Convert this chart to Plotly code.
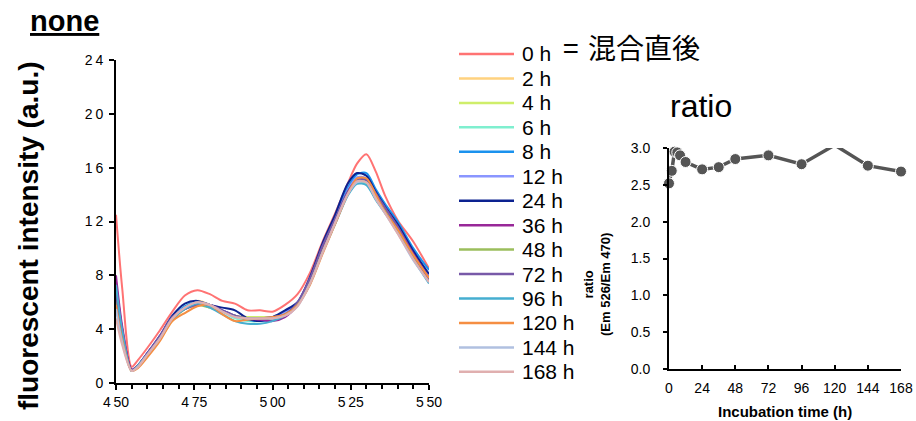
import plotly.graph_objects as go

# ---------------- data ----------------
wavelength = [450, 452, 455, 457, 460, 464, 468, 472, 476, 480, 484, 488, 492, 496,
              500, 504, 508, 512, 516, 520, 524, 527, 530, 533, 536, 540, 545, 550]

time_labels = ["0 h", "2 h", "4 h", "6 h", "8 h", "12 h", "24 h", "36 h",
               "48 h", "72 h", "96 h", "120 h", "144 h", "168 h"]

line_colors = ["#FF7373", "#FFD27F", "#CFEE6A", "#7FEFCF", "#1A92EE", "#8A96FF", "#0C2290",
               "#982898", "#9BBE5C", "#7859A8", "#45AED0", "#F58E42", "#B0C0E0", "#E0AFAF"]

spectra = [
    [12.5, 7.0, 1.2, 1.7, 2.6, 3.9, 5.3, 6.5, 6.9, 6.6, 6.1, 5.9, 5.4, 5.4, 5.3, 5.8, 6.6, 8.2, 10.5, 12.6, 14.8, 16.3, 17.0, 15.7, 13.9, 12.1, 10.5, 8.5],
    [6.0, 3.3, 0.9, 1.2, 2.0, 3.2, 4.6, 5.5, 6.1, 5.8, 5.3, 4.9, 4.8, 4.8, 4.9, 5.2, 5.9, 7.5, 9.8, 12.0, 14.1, 15.0, 15.0, 13.8, 12.8, 11.5, 9.5, 7.8],
    [6.3, 3.4, 0.9, 1.3, 2.1, 3.3, 4.7, 5.6, 5.9, 5.6, 5.3, 5.0, 4.9, 4.9, 4.9, 5.1, 5.8, 7.5, 9.9, 12.0, 14.1, 15.0, 14.9, 13.8, 12.8, 11.5, 9.5, 7.7],
    [6.6, 3.6, 0.9, 1.3, 2.2, 3.4, 4.8, 5.7, 6.0, 5.7, 5.3, 4.8, 4.6, 4.6, 4.8, 5.1, 5.8, 7.5, 9.8, 11.9, 14.0, 14.9, 14.8, 13.7, 12.7, 11.4, 9.4, 7.6],
    [6.8, 3.7, 0.9, 1.3, 2.2, 3.4, 4.8, 5.7, 6.0, 5.8, 5.4, 5.0, 4.7, 4.6, 4.7, 5.1, 5.9, 7.7, 10.1, 12.3, 14.5, 15.5, 15.6, 14.4, 13.3, 12.0, 10.0, 8.4],
    [7.0, 3.8, 0.9, 1.3, 2.2, 3.4, 4.8, 5.6, 5.9, 5.7, 5.3, 5.0, 4.8, 4.7, 4.8, 5.3, 5.8, 7.6, 10.0, 12.1, 14.3, 15.3, 15.2, 14.1, 13.0, 11.7, 9.7, 8.0],
    [7.5, 4.0, 1.0, 1.3, 2.2, 3.5, 5.0, 5.9, 6.1, 5.8, 5.6, 5.4, 4.8, 4.6, 4.9, 5.4, 6.0, 7.9, 10.4, 12.5, 14.8, 15.6, 15.4, 14.2, 13.1, 11.8, 9.8, 8.1],
    [8.0, 4.2, 1.0, 1.3, 2.2, 3.4, 4.8, 5.5, 5.8, 5.8, 5.4, 5.0, 4.8, 4.7, 4.6, 4.9, 5.8, 7.6, 10.0, 12.1, 14.2, 15.1, 15.1, 14.0, 13.0, 11.6, 9.6, 7.8],
    [6.4, 3.5, 0.9, 1.2, 2.1, 3.3, 4.7, 5.5, 5.8, 5.6, 5.3, 5.0, 4.8, 4.8, 4.8, 5.1, 5.8, 7.5, 9.8, 11.9, 14.0, 14.9, 14.9, 13.8, 12.8, 11.4, 9.4, 7.6],
    [6.7, 3.6, 0.9, 1.3, 2.2, 3.5, 4.9, 5.5, 5.8, 5.8, 5.4, 5.0, 4.8, 4.8, 4.9, 5.1, 6.0, 7.8, 10.2, 12.2, 14.2, 15.1, 15.1, 14.1, 13.0, 11.6, 9.5, 7.7],
    [7.3, 3.9, 0.9, 1.3, 2.1, 3.3, 4.7, 5.5, 5.9, 5.6, 5.1, 4.6, 4.4, 4.4, 4.6, 5.0, 5.8, 7.4, 9.7, 11.8, 13.9, 14.8, 14.7, 13.6, 12.6, 11.3, 9.2, 7.4],
    [5.8, 3.2, 0.9, 1.1, 1.9, 3.1, 4.6, 5.2, 5.7, 5.8, 5.1, 4.6, 4.7, 4.8, 4.9, 5.1, 5.8, 7.3, 9.6, 11.8, 14.0, 15.2, 15.2, 14.0, 12.7, 11.4, 9.5, 7.8],
    [5.5, 3.0, 0.9, 1.2, 2.1, 3.3, 4.8, 5.6, 6.0, 5.8, 5.3, 4.9, 4.8, 4.8, 4.8, 5.0, 5.7, 7.4, 9.7, 11.9, 14.0, 14.9, 14.9, 13.7, 12.6, 11.1, 9.1, 7.5],
    [4.8, 2.8, 0.9, 1.2, 2.1, 3.3, 4.8, 5.6, 6.0, 5.8, 5.3, 4.9, 4.8, 4.8, 4.8, 5.0, 5.7, 7.4, 9.7, 11.9, 14.0, 15.0, 14.9, 13.7, 12.6, 11.1, 9.2, 7.5],
]

incubation_hours = [0, 2, 4, 6, 8, 12, 24, 36, 48, 72, 96, 120, 144, 168]
ratio_values = [2.52, 2.69, 2.95, 2.94, 2.90, 2.81, 2.71, 2.74, 2.85, 2.90, 2.78, 3.04, 2.76, 2.68]

wl_tickvals = [450, 475, 500, 525, 550]
wl_ticktext = ["4\u200950", "4\u200975", "5\u200900", "5\u200925", "5\u200950"]
int_tickvals = [0, 4, 8, 12, 16, 20, 24]
int_ticktext = ["0", "4", "8", "1\u20092", "1\u20096", "2\u20090", "2\u20094"]
hour_tickvals = [0, 24, 48, 72, 96, 120, 144, 168]
ratio_tickvals = [0.0, 0.5, 1.0, 1.5, 2.0, 2.5, 3.0]

# ---------------- figure ----------------
W, H = 916, 421
FONT = "Liberation Sans, Arial, sans-serif"
CJK_FONT = "Noto Sans CJK JP"


def px(x):
    return x / W


def py(y):
    return 1 - y / H


fig = go.Figure()

for label, color, ys in zip(time_labels, line_colors, spectra):
    fig.add_trace(go.Scatter(
        x=wavelength, y=ys, mode="lines", name=label,
        line=dict(color=color, width=2, shape="spline", smoothing=0.8),
        xaxis="x", yaxis="y", showlegend=False,
    ))

# markers above the axis range are left out, as the line is cut there
marker_sizes = [11 if v <= ratio_tickvals[-1] else 0 for v in ratio_values]
fig.add_trace(go.Scatter(
    x=incubation_hours, y=ratio_values, mode="lines+markers",
    line=dict(color="#555555", width=3.5),
    marker=dict(color="#555555", size=marker_sizes, opacity=1),
    xaxis="x2", yaxis="y2", showlegend=False, cliponaxis=False,
))

axis_common = dict(
    showline=True, linecolor="black", linewidth=2, showgrid=False, zeroline=False,
    automargin=False,
    tickcolor="black", tickwidth=1.5, tickfont=dict(family=FONT, size=14, color="black"),
)

fig.update_layout(
    width=W, height=H, autosize=False,
    margin=dict(l=0, r=0, t=0, b=0, autoexpand=False),
    paper_bgcolor="white", plot_bgcolor="white",
    showlegend=False,
    font=dict(family=FONT, color="black"),
    xaxis=dict(domain=[px(116), px(429)], range=[450, 550], anchor="y",
               tickvals=wl_tickvals, ticktext=wl_ticktext, ticks="outside", ticklen=5,
               minor=dict(dtick=5, tick0=450, ticks="outside", ticklen=4,
                          tickcolor="black", tickwidth=1.5),
               ticklabelstandoff=0, **axis_common),
    yaxis=dict(domain=[1 - 383 / H, 1 - 60 / H], range=[0, 24], anchor="x",
               tickvals=int_tickvals, ticktext=int_ticktext, ticks="outside", ticklen=5,
               ticklabelstandoff=3, **axis_common),
    xaxis2=dict(domain=[px(669), px(901)], range=[0, 168], anchor="y2",
                tickvals=hour_tickvals, ticks="inside", ticklen=4,
                ticklabelstandoff=5, **axis_common),
    yaxis2=dict(domain=[1 - 369 / H, 1 - 148 / H], range=[0, 3], anchor="x2",
                tickvals=ratio_tickvals, tickformat=".1f", ticks="outside", ticklen=4,
                ticklabelstandoff=10, **axis_common),
)

annotations = [
    dict(x=px(28), y=py(21), text="<b><u>none</u></b>", xanchor="left", yanchor="middle",
         font=dict(family=FONT, size=29, color="black")),
    dict(x=px(28), y=py(236), text="<b>fluorescent intensity (a.u.)</b>", textangle=-90,
         xanchor="center", yanchor="middle", font=dict(family=FONT, size=28, color="black")),
    dict(x=px(561), y=py(47), text="=", xanchor="left", yanchor="middle",
         font=dict(family=CJK_FONT, size=28, color="black")),
    dict(x=px(586), y=py(47), text="混合直後", xanchor="left", yanchor="middle",
         font=dict(family=CJK_FONT, size=28, color="black")),
    dict(x=px(701), y=py(106), text="ratio", xanchor="center", yanchor="middle",
         font=dict(family=FONT, size=32, color="black")),
    dict(x=px(597), y=py(285), text="<b>ratio<br>(Em 526/Em 470)</b>", textangle=-90,
         xanchor="center", yanchor="middle", font=dict(family=FONT, size=13, color="black")),
    dict(x=px(785), y=py(411), text="<b>Incubation time (h)</b>", xanchor="center",
         yanchor="middle", font=dict(family=FONT, size=15, color="black")),
]

# hand-built legend: long line swatches with labels
shapes = []
row0, row_step = 54, 24.45
for i, (label, color) in enumerate(zip(time_labels, line_colors)):
    yy = py(row0 + row_step * i)
    shapes.append(dict(type="line", xref="paper", yref="paper",
                       x0=px(459), x1=px(514), y0=yy, y1=yy,
                       line=dict(color=color, width=2.5)))
    annotations.append(dict(x=px(520), y=yy, text=label, xanchor="left", yanchor="middle",
                            font=dict(family=FONT, size=21, color="black")))

for a in annotations:
    a.update(xref="paper", yref="paper", showarrow=False)

fig.update_layout(annotations=annotations, shapes=shapes)

fig.write_html("out.html")
